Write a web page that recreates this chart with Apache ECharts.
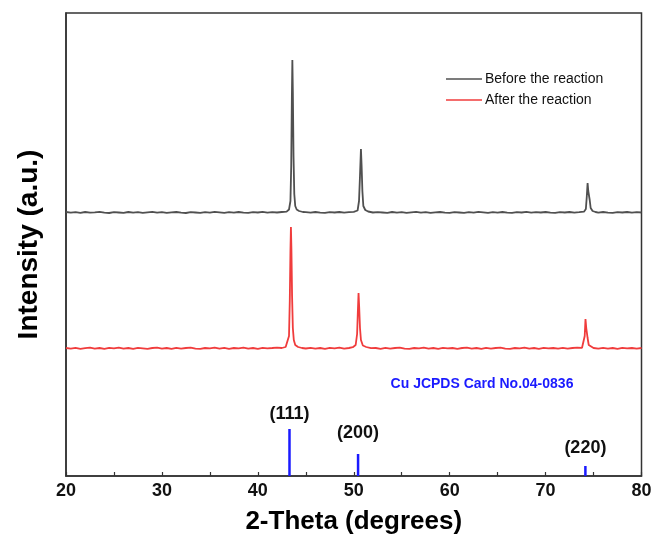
<!DOCTYPE html>
<html>
<head>
<meta charset="utf-8">
<script src="https://cdn.jsdelivr.net/npm/echarts@6/dist/echarts.min.js"></script>
<style>html,body{margin:0;padding:0;background:#fff}#c{width:655px;height:537px}</style>
</head>
<body>
<div id="c"></div>
<script>
// Pattern before the reaction: [2-theta, intensity (a.u.)]
var beforeData = [
[20,264],[20.5,263.3],[21,263.8],[21.5,263.1],[22,264],[22.5,263.4],[23,263.6],[23.5,264.1],[24,263.3],[24.5,263],
[25,263.9],[25.5,263.5],[26,263.1],[26.5,264],[27,263.4],[27.5,263.8],[28,263.1],[28.5,263.6],[29,264.1],[29.5,263.3],
[30,263.8],[30.5,263.1],[31,263.6],[31.5,264],[32,263.4],[32.5,263],[33,263.9],[33.5,263.5],[34,263.1],[34.5,263.8],
[35,263.4],[35.5,264.1],[36,263.6],[36.5,263.1],[37,263.8],[37.5,263.4],[38,264],[38.5,263.3],[39,263.1],[39.5,263.8],
[40,263.5],[40.5,264.1],[41,263.4],[41.5,263.8],[42,263.5],[42.5,264],[43,264.4],[43.25,266.5],[43.4,275],[43.48,310],
[43.55,380],[43.6,416],[43.65,385],[43.72,320],[43.8,282],[43.9,270],[44.05,266.5],[44.3,265],[44.7,264],[45,263.8],
[45.5,263.3],[46,264],[46.5,263.4],[47,263.1],[47.5,263.8],[48,263.5],[48.5,264],[49,263.3],[49.5,263.8],[50,264.2],
[50.4,265.5],[50.55,275],[50.65,300],[50.75,327],[50.82,310],[50.9,285],[51,270],[51.2,266],[51.5,264.5],[52,263.5],
[52.5,263.8],[53,263.5],[53.5,263.1],[54,264],[54.5,263.4],[55,263.8],[55.5,263.1],[56,263.6],[56.5,264.1],[57,263.4],
[57.5,263.8],[58,263.1],[58.5,263.6],[59,264],[59.5,263.3],[60,263.1],[60.5,263.8],[61,263.5],[61.5,263.1],[62,263.8],
[62.5,263.4],[63,264.1],[63.5,263.6],[64,263.1],[64.5,263.8],[65,263.4],[65.5,264],[66,263.4],[66.5,263.1],[67,263.8],
[67.5,263.5],[68,264.1],[68.5,263.4],[69,263.8],[69.5,263.5],[70,264],[70.5,263.3],[71,263.1],[71.5,263.8],[72,263.5],
[72.5,264],[73,263.4],[73.5,263.8],[74,264.3],[74.2,267],[74.3,280],[74.38,293],[74.45,285],[74.52,284],[74.6,276],
[74.7,268],[74.9,265],[75.2,264],[75.5,263.4],[76,264],[76.5,263.4],[77,263.1],[77.5,263.8],[78,263.5],[78.5,264],
[79,263.4],[79.5,263.8],[80,263.5]
];
// Pattern after the reaction
var afterData = [
[20,128],[20.5,127.4],[21,128.2],[21.5,127.2],[22,127.9],[22.5,128.4],[23,127.4],[23.5,128],[24,127.2],[24.5,128.2],
[25,127.7],[25.5,128.4],[26,127.4],[26.5,128],[27,127.2],[27.5,128.2],[28,127.7],[28.5,127.2],[29,128],[29.5,128.4],
[30,127.4],[30.5,128],[31,127.2],[31.5,128.2],[32,127.4],[32.5,128],[33,128.4],[33.5,127.4],[34,127.2],[34.5,128],
[35,127.7],[35.5,128.4],[36,127.4],[36.5,128.2],[37,127.2],[37.5,128],[38,127.7],[38.5,128.4],[39,127.4],[39.5,128],
[40,127.2],[40.5,128.2],[41,127.7],[41.5,128],[42,128.4],[42.5,128],[42.9,129],[43.1,131],[43.25,140],[43.33,175],
[43.4,225],[43.45,249],[43.5,228],[43.57,180],[43.65,148],[43.75,136],[43.9,131],[44.2,129],[44.6,128],[45,127.5],
[45.5,128.2],[46,127.4],[46.5,128],[47,127.2],[47.5,128.2],[48,127.7],[48.5,128.4],[49,127.4],[49.5,128],[49.9,128.8],
[50.2,131],[50.35,142],[50.43,165],[50.5,183],[50.57,168],[50.65,148],[50.75,136],[50.95,130.5],[51.3,129],[51.8,127.8],
[52.3,128],[52.8,127.2],[53.3,128.2],[53.8,127.4],[54.3,128],[54.8,128.4],[55.3,127.4],[55.8,127.2],[56.3,128],[56.8,127.7],
[57.3,128.4],[57.8,127.4],[58.3,128],[58.8,127.2],[59.3,128.2],[59.8,127.7],[60.3,128],[60.8,127.2],[61.3,128],[61.8,128.4],
[62.3,127.4],[62.8,128],[63.3,127.2],[63.8,128.2],[64.3,127.4],[64.8,128],[65.3,128.4],[65.8,127.4],[66.3,127.2],[66.8,128],
[67.3,127.7],[67.8,128.4],[68.3,127.4],[68.8,128],[69.3,127.2],[69.8,128.2],[70.3,127.7],[70.8,128],[71.3,127.4],[71.8,128.2],
[72.3,127.4],[72.8,128],[73.3,128.4],[73.8,128.2],[74,130],[74.08,140],[74.16,157],[74.24,148],[74.3,147],[74.38,138],
[74.5,131],[74.7,129],[75,128],[75.5,127.4],[76,128.2],[76.5,127.4],[77,128],[77.5,127.2],[78,128.2],[78.5,127.7],
[79,128],[79.5,127.4],[80,128]
];
// Cu JCPDS Card No.04-0836 reference lines
var refPos = [43.3, 50.45, 74.15];
var refHeight = [47, 22, 10];
var refLabels = ['(111)', '(200)', '(220)'];
var seriesNames = ['Before the reaction', 'After the reaction'];
var xTicks = [20, 30, 40, 50, 60, 70, 80];

var labelGap = [6, 12, 9];
var refSeriesData = refPos.map(function (p, i) {
  return { value: [p, refHeight[i]], label: { distance: labelGap[i] } };
});

var chart = echarts.init(document.getElementById('c'), null, { renderer: 'canvas' });
chart.setOption({
  animation: false,
  backgroundColor: '#fff',
  grid: { left: 66, right: 13.5, top: 13, bottom: 61, outerBoundsMode: 'none', containLabel: false,
    show: true, borderColor: '#333', borderWidth: 1.5, backgroundColor: 'transparent' },
  legend: {
    data: seriesNames,
    orient: 'vertical',
    left: 446, top: 72, padding: 0,
    itemWidth: 36, itemHeight: 14, itemGap: 7,
    icon: 'path://M0,0 L36,0 L36,1.6 L0,1.6 Z',
    textStyle: { fontFamily: 'Liberation Sans, Arial', fontSize: 14, color: '#111', padding: [0, 0, 0, -2] }
  },
  graphic: [{
    type: 'text', x: 482, y: 384,
    style: { text: 'Cu JCPDS Card No.04-0836', fill: '#1a1aff', font: 'bold 14px Liberation Sans, Arial', textAlign: 'center', textVerticalAlign: 'middle' }
  }],
  xAxis: {
    type: 'value', min: xTicks[0], max: xTicks[xTicks.length - 1], interval: 10,
    name: '2-Theta (degrees)', nameLocation: 'middle', nameGap: 33,
    nameTextStyle: { fontFamily: 'Liberation Sans, Arial', fontWeight: 'bold', fontSize: 26, color: '#000' },
    axisLine: { show: true, lineStyle: { color: '#333', width: 1.5 } },
    axisTick: { show: true, inside: true, length: 4, lineStyle: { color: '#333', width: 1.2 } },
    minorTick: { show: true, splitNumber: 2, length: 4, lineStyle: { color: '#333', width: 1.2 } },
    axisLabel: { margin: 6, fontFamily: 'Liberation Sans, Arial', fontWeight: 'bold', fontSize: 18, color: '#111' },
    splitLine: { show: false }
  },
  yAxis: {
    type: 'value', min: 0, max: 463,
    name: 'Intensity (a.u.)', nameLocation: 'middle', nameGap: 23, nameRotate: 90,
    nameTextStyle: { fontFamily: 'Liberation Sans, Arial', fontWeight: 'bold', fontSize: 28, color: '#000' },
    axisLine: { show: true, lineStyle: { color: '#333', width: 1.5 } },
    axisTick: { show: false }, axisLabel: { show: false }, splitLine: { show: false }
  },
  series: [
    { name: seriesNames[0], type: 'line', data: beforeData, showSymbol: false, symbol: 'none',
      lineStyle: { color: '#505050', width: 1.8 }, itemStyle: { color: '#505050' } },
    { name: seriesNames[1], type: 'line', data: afterData, showSymbol: false, symbol: 'none',
      lineStyle: { color: '#f03c3c', width: 1.8 }, itemStyle: { color: '#f03c3c' } },
    { name: 'ref', type: 'bar', data: refSeriesData, barWidth: 2.5,
      itemStyle: { color: '#1a1aff' },
      label: { show: true, position: 'top', formatter: function (p) { return refLabels[p.dataIndex]; },
        fontFamily: 'Liberation Sans, Arial', fontWeight: 'bold', fontSize: 18, color: '#111' } }
  ]
});
</script>
</body>
</html>
